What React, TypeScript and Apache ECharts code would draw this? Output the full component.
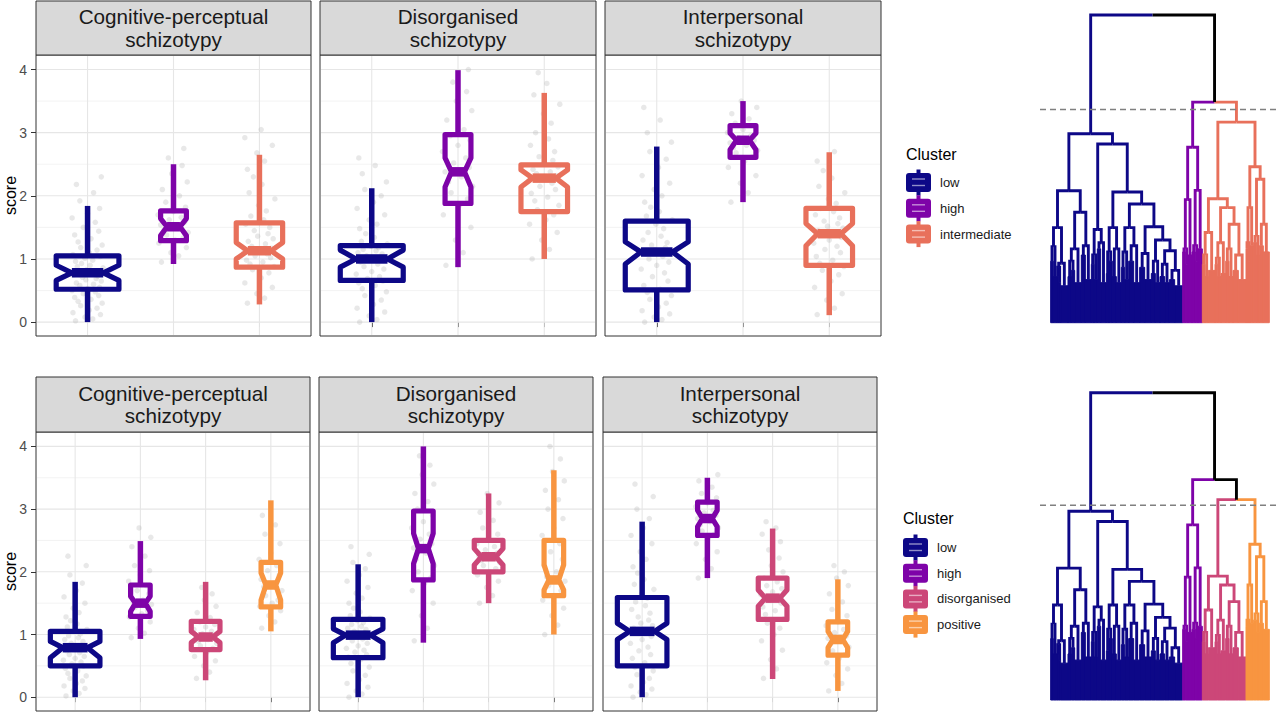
import React, { useEffect, useRef } from "react";
import * as echarts from "echarts";

const FONT = "'Liberation Sans', Arial, Helvetica, sans-serif";

const FACETS = ["Cognitive-perceptual\nschizotypy", "Disorganised\nschizotypy", "Interpersonal\nschizotypy"];
const CLUSTERS_K3 = ["low", "high", "intermediate"];
const CLUSTERS_K4 = ["low", "high", "disorganised", "positive"];
const COLORS_K3 = ["#0D0887", "#7E03A8", "#E8705B"];
const COLORS_K4 = ["#0D0887", "#7E03A8", "#CC4778", "#F89540"];
const Y_TICKS = [0, 1, 2, 3, 4];
const Y_MINOR = [0.5, 1.5, 2.5, 3.5];
const Y_RANGE = [-0.22, 4.23];

// box stats: [lower whisker, Q1, notch lower, median, notch upper, Q3, upper whisker]
const K3_COG = [
  [0.0, 0.52, 0.66, 0.78, 0.9, 1.05, 1.84],
  [0.92, 1.29, 1.37, 1.51, 1.64, 1.76, 2.5],
  [0.28, 0.87, 1.0, 1.13, 1.26, 1.57, 2.65],
];
const K3_DIS = [
  [0.0, 0.66, 0.87, 1.0, 1.14, 1.21, 2.12],
  [0.87, 1.88, 2.14, 2.38, 2.6, 2.97, 3.99],
  [1.0, 1.75, 2.14, 2.28, 2.41, 2.49, 3.63],
];
const K3_INT = [
  [0.0, 0.51, 0.92, 1.11, 1.27, 1.6, 2.78],
  [1.9, 2.61, 2.73, 2.88, 2.99, 3.11, 3.5],
  [0.11, 0.9, 1.21, 1.4, 1.56, 1.8, 2.69],
];
const K4_COG = [
  [0.0, 0.5, 0.63, 0.79, 0.89, 1.05, 1.84],
  [0.93, 1.29, 1.37, 1.5, 1.61, 1.79, 2.49],
  [0.27, 0.76, 0.87, 0.96, 1.05, 1.21, 1.84],
  [1.05, 1.44, 1.55, 1.79, 1.98, 2.15, 3.14],
];
const K4_DIS = [
  [0.0, 0.63, 0.87, 0.99, 1.09, 1.24, 2.12],
  [0.87, 1.87, 2.13, 2.37, 2.61, 2.97, 4.0],
  [1.5, 2.0, 2.11, 2.24, 2.37, 2.5, 3.25],
  [1.0, 1.62, 1.71, 1.87, 2.11, 2.5, 3.62],
];
const K4_INT = [
  [0.0, 0.5, 0.92, 1.05, 1.18, 1.59, 2.8],
  [1.9, 2.58, 2.72, 2.85, 2.98, 3.11, 3.5],
  [0.29, 1.24, 1.45, 1.58, 1.71, 1.9, 2.69],
  [0.1, 0.67, 0.79, 0.92, 1.05, 1.2, 1.88],
];

// relative box widths (varwidth, ~sqrt(n))
const WIDTH_K3 = [0.73, 0.3, 0.54];
const WIDTH_K4 = [0.76, 0.3, 0.44, 0.3];

// individual scores (jittered points)
const K3_COG_PTS = [
  [0.02, 0.05, 0.08, 0.12, 0.15, 0.19, 0.22, 0.26, 0.3, 0.33, 0.36, 0.39, 0.42, 0.45, 0.48, 0.5, 0.53, 0.55, 0.58, 0.6, 0.62, 0.65, 0.67, 0.69, 0.71, 0.73, 0.75, 0.77, 0.79, 0.81, 0.83, 0.86, 0.88, 0.9, 0.93, 0.96, 0.98, 1.01, 1.04, 1.07, 1.1, 1.14, 1.18, 1.22, 1.27, 1.32, 1.38, 1.44, 1.5, 1.58, 1.65, 1.72, 1.8, 1.92, 2.05, 2.18, 2.3],
  [0.95, 1.05, 1.1, 1.18, 1.25, 1.3, 1.33, 1.38, 1.42, 1.46, 1.5, 1.54, 1.58, 1.62, 1.66, 1.7, 1.75, 1.82, 1.9, 2.0, 2.1, 2.22, 2.35, 2.48, 2.6, 2.75],
  [0.3, 0.38, 0.45, 0.55, 0.62, 0.7, 0.78, 0.83, 0.88, 0.92, 0.95, 0.98, 1.02, 1.05, 1.08, 1.11, 1.14, 1.17, 1.2, 1.24, 1.28, 1.32, 1.36, 1.4, 1.45, 1.5, 1.55, 1.62, 1.68, 1.76, 1.85, 1.95, 2.05, 2.18, 2.3, 2.42, 2.55, 2.68, 2.8, 2.92, 3.05],
];
const K3_DIS_PTS = [
  [0.0, 0.04, 0.1, 0.16, 0.22, 0.28, 0.35, 0.42, 0.48, 0.53, 0.58, 0.62, 0.65, 0.69, 0.72, 0.76, 0.8, 0.84, 0.88, 0.92, 0.95, 0.98, 1.0, 1.03, 1.05, 1.08, 1.1, 1.13, 1.15, 1.18, 1.2, 1.24, 1.28, 1.34, 1.4, 1.48, 1.55, 1.62, 1.7, 1.8, 1.9, 2.0, 2.1, 2.22, 2.35, 2.48, 2.6],
  [0.9, 1.1, 1.3, 1.5, 1.7, 1.85, 1.95, 2.05, 2.15, 2.22, 2.3, 2.38, 2.45, 2.52, 2.6, 2.7, 2.8, 2.88, 2.95, 3.05, 3.2, 3.35, 3.5, 3.65, 3.8, 4.0],
  [1.0, 1.15, 1.3, 1.42, 1.55, 1.62, 1.7, 1.78, 1.85, 1.92, 1.98, 2.04, 2.1, 2.15, 2.2, 2.24, 2.28, 2.32, 2.35, 2.38, 2.42, 2.46, 2.5, 2.56, 2.62, 2.7, 2.8, 2.9, 3.0, 3.15, 3.3, 3.45, 3.6, 3.78, 3.95],
];
const K3_INT_PTS = [
  [0.0, 0.04, 0.08, 0.13, 0.18, 0.24, 0.3, 0.36, 0.42, 0.47, 0.52, 0.58, 0.65, 0.72, 0.78, 0.84, 0.9, 0.95, 1.0, 1.04, 1.08, 1.11, 1.15, 1.18, 1.22, 1.26, 1.3, 1.36, 1.42, 1.48, 1.55, 1.62, 1.68, 1.75, 1.82, 1.9, 2.0, 2.1, 2.2, 2.32, 2.45, 2.58, 2.7, 2.85, 3.0, 3.2, 3.4],
  [1.9, 2.05, 2.2, 2.32, 2.45, 2.55, 2.62, 2.68, 2.72, 2.76, 2.8, 2.84, 2.88, 2.92, 2.95, 3.0, 3.05, 3.1, 3.15, 3.22, 3.3, 3.4, 3.5],
  [0.12, 0.22, 0.35, 0.45, 0.55, 0.65, 0.75, 0.82, 0.88, 0.93, 0.98, 1.04, 1.1, 1.15, 1.2, 1.25, 1.3, 1.34, 1.38, 1.42, 1.45, 1.49, 1.52, 1.56, 1.6, 1.65, 1.7, 1.75, 1.8, 1.88, 1.95, 2.05, 2.15, 2.28, 2.4, 2.55, 2.7],
];
const K4_COG_PTS = [
  [0.02, 0.06, 0.1, 0.14, 0.18, 0.22, 0.26, 0.3, 0.34, 0.38, 0.42, 0.46, 0.5, 0.53, 0.56, 0.59, 0.62, 0.65, 0.68, 0.71, 0.74, 0.77, 0.8, 0.83, 0.86, 0.89, 0.92, 0.95, 0.98, 1.01, 1.05, 1.08, 1.12, 1.17, 1.22, 1.28, 1.35, 1.42, 1.5, 1.6, 1.7, 1.82, 1.95, 2.1, 2.25],
  [0.95, 1.02, 1.1, 1.2, 1.28, 1.33, 1.38, 1.43, 1.48, 1.52, 1.55, 1.6, 1.65, 1.7, 1.78, 1.85, 1.95, 2.02, 2.1, 2.25, 2.4, 2.55, 2.7],
  [0.3, 0.4, 0.5, 0.58, 0.65, 0.72, 0.78, 0.82, 0.86, 0.89, 0.92, 0.95, 0.98, 1.01, 1.05, 1.08, 1.12, 1.16, 1.2, 1.27, 1.35, 1.45, 1.55, 1.65, 1.75],
  [1.1, 1.2, 1.3, 1.38, 1.45, 1.5, 1.55, 1.62, 1.7, 1.76, 1.82, 1.88, 1.95, 2.02, 2.1, 2.2, 2.3, 2.45, 2.6, 2.75, 2.9],
];
const K4_DIS_PTS = [
  [0.0, 0.05, 0.1, 0.16, 0.22, 0.28, 0.35, 0.42, 0.48, 0.54, 0.6, 0.64, 0.68, 0.72, 0.75, 0.78, 0.82, 0.86, 0.9, 0.93, 0.96, 0.98, 1.0, 1.03, 1.05, 1.08, 1.1, 1.13, 1.16, 1.19, 1.22, 1.26, 1.3, 1.36, 1.42, 1.5, 1.58, 1.66, 1.75, 1.85, 1.95, 2.05, 2.15, 2.28, 2.4],
  [0.9, 1.1, 1.3, 1.5, 1.7, 1.82, 1.9, 2.0, 2.1, 2.2, 2.3, 2.38, 2.45, 2.52, 2.6, 2.7, 2.8, 2.9, 3.0, 3.12, 3.25, 3.4, 3.55, 3.7, 3.85],
  [1.5, 1.62, 1.75, 1.85, 1.95, 2.0, 2.05, 2.1, 2.15, 2.18, 2.22, 2.26, 2.3, 2.35, 2.4, 2.45, 2.5, 2.6, 2.7, 2.82, 2.95, 3.1, 3.25],
  [1.0, 1.15, 1.3, 1.42, 1.55, 1.62, 1.7, 1.78, 1.85, 1.92, 2.0, 2.1, 2.2, 2.32, 2.45, 2.58, 2.7, 2.85, 3.0, 3.15, 3.3, 3.45, 3.6, 3.8, 4.0],
];
const K4_INT_PTS = [
  [0.0, 0.04, 0.08, 0.13, 0.18, 0.24, 0.3, 0.36, 0.42, 0.48, 0.55, 0.62, 0.68, 0.74, 0.8, 0.86, 0.92, 0.97, 1.02, 1.06, 1.1, 1.14, 1.18, 1.23, 1.28, 1.34, 1.4, 1.46, 1.52, 1.58, 1.65, 1.72, 1.8, 1.88, 1.98, 2.08, 2.2, 2.32, 2.45, 2.58, 2.7, 2.85, 3.0, 3.2, 3.4],
  [1.9, 2.05, 2.2, 2.32, 2.45, 2.55, 2.6, 2.65, 2.7, 2.75, 2.8, 2.85, 2.9, 2.94, 2.98, 3.04, 3.1, 3.18, 3.25, 3.35, 3.45, 3.55],
  [0.3, 0.45, 0.6, 0.75, 0.9, 1.0, 1.1, 1.18, 1.25, 1.32, 1.38, 1.44, 1.5, 1.55, 1.6, 1.64, 1.68, 1.73, 1.78, 1.84, 1.9, 2.0, 2.1, 2.22, 2.35, 2.48, 2.6, 2.7, 2.8],
  [0.1, 0.22, 0.35, 0.45, 0.55, 0.62, 0.68, 0.74, 0.8, 0.85, 0.9, 0.94, 0.98, 1.03, 1.08, 1.14, 1.2, 1.3, 1.4, 1.52, 1.65, 1.78, 1.9, 2.0, 2.1],
];

// horizontal jitter offsets (category units)
const JITTER = [-0.14, 0.06, -0.03, 0.15, -0.17, 0.02, 0.11, -0.08, 0.17, -0.11, 0.04, -0.15, 0.13, -0.05, 0.09, -0.18, 0.0, 0.14, -0.09, 0.07, -0.13, 0.16, -0.02, 0.1, -0.06, 0.12, -0.16, 0.05, -0.1, 0.08, -0.01, 0.18, -0.12, 0.03, -0.07];

// dendrogram: node = [height, left, right]; leaf bundle = [width (leaves), height]
const LOW_A = [3.09, [2.47, [8, 2.0], [10, 1.5]], [1.93, [1.8, [6, 1.5], [6, 1.3]], [22, 1.2]]];
const LOW_B = [3.59, [2.4, [2.0, [10, 1.5], [10, 1.7]], [20, 1.3]], [2.5, [12, 2.2], [18, 1.4]]];
const LOW_C = [3.03, [2.2, [8, 1.9], [10, 1.4]], [2.6, [10, 2.4], [17, 1.3]]];
const LOW_D = [3.09, [2.3, [8, 1.6], [10, 2.0]], [2.4, [12, 1.5], [15, 1.3]]];
const LOW_E = [3.09, [2.3, [10, 1.8], [12, 1.4]], [2.5, [15, 2.0], [18, 1.3]]];
const LOW_F = [3.12, [2.25, [15, 1.8], [20, 1.4]], [2.69, [2.0, [12, 1.6], [14, 1.3]], [2.34, [1.9, [14, 1.5], [14, 1.3]], [1.7, [16, 1.4], [24, 1.2]]]]];
const TREE_LOW = [6.14, [4.29, LOW_A, LOW_B], [5.81, LOW_C, [4.25, LOW_D, [3.86, LOW_E, LOW_F]]]];
const TREE_HIGH = [5.7, [4.0, [2.4, [8, 2.3], [8, 1.9]], [12, 2.2]], [4.3, [2.5, [10, 2.3], [8, 2.0]], [13, 2.4]]];
const TREE_DIS = [4.03, [2.93, [2.2, [8, 1.9], [10, 1.5]], [20, 1.7]], [3.74, [2.6, [2.1, [8, 1.9], [10, 1.5]], [14, 1.6]], [3.2, [2.4, [10, 2.0], [12, 1.5]], [2.2, [16, 1.7], [23, 1.4]]]]];
const TREE_POS = [5.07, [3.74, [2.6, [6, 2.4], [6, 2.0]], [10, 2.5]], [4.66, [2.8, [10, 2.6], [8, 2.2]], [3.2, [12, 2.5], [18, 2.3]]]];
const TOP_MERGES = [10, 7.17, 6.52]; // root, high+rest, disorganised+positive
const GROUP_MAP_K3 = [0, 1, 2, 2];
const GROUP_MAP_K4 = [0, 1, 2, 3];
const CUT_K3 = 6.93;
const CUT_K4 = 6.34;

function tag(node: any, g: number): any {
  if (!Array.isArray(node[1])) return [node[0], node[1], g];
  return [node[0], tag(node[1], g), tag(node[2], g)];
}
const FULL_TREE = [TOP_MERGES[0], tag(TREE_LOW, 0), [TOP_MERGES[1], tag(TREE_HIGH, 1), [TOP_MERGES[2], tag(TREE_DIS, 2), tag(TREE_POS, 3)]]];

function layoutTree(node: any, map: number[], acc: number[][], cur: { v: number }): { x: number; h: number; c: number } {
  if (!Array.isArray(node[1])) {
    const [w, h, g] = node;
    const c = map[g];
    const x0 = cur.v;
    cur.v += w;
    acc.push([1, x0, x0 + w, h, c, 0, 0, 0, 0]);
    return { x: x0 + w / 2, h, c };
  }
  const L = layoutTree(node[1], map, acc, cur);
  const R = layoutTree(node[2], map, acc, cur);
  const x = (L.x + R.x) / 2;
  acc.push([0, x, node[0], L.x, L.h, L.c, R.x, R.h, R.c]);
  return { x, h: node[0], c: L.c === R.c ? L.c : -1 };
}

const ROWS = [
  {
    clusters: CLUSTERS_K3, colors: COLORS_K3, widths: WIDTH_K3,
    boxes: [K3_COG, K3_DIS, K3_INT], points: [K3_COG_PTS, K3_DIS_PTS, K3_INT_PTS],
    panelsX: [[36, 311], [320, 596], [605, 881]], plotY: [55, 336], stripY: [1, 55],
    legend: { x: 906, labelX: 940, titleY: 154, firstY: 182.5, step: 25.8 },
    dendro: { top: 15, height: 307.7, map: GROUP_MAP_K3, cut: CUT_K3 },
  },
  {
    clusters: CLUSTERS_K4, colors: COLORS_K4, widths: WIDTH_K4,
    boxes: [K4_COG, K4_DIS, K4_INT], points: [K4_COG_PTS, K4_DIS_PTS, K4_INT_PTS],
    panelsX: [[36, 310], [319, 593], [603, 877]], plotY: [432, 711], stripY: [377, 432],
    legend: { x: 903, labelX: 937, titleY: 518.5, firstY: 547.5, step: 25.7 },
    dendro: { top: 392.7, height: 307.3, map: GROUP_MAP_K4, cut: CUT_K4 },
  },
];

function buildOption() {
  const grid: any[] = [];
  const xAxis: any[] = [];
  const yAxis: any[] = [];
  const series: any[] = [];
  const elements: any[] = [];

  ROWS.forEach((row) => {
    const n = row.clusters.length;
    row.panelsX.forEach(([x0, x1], p) => {
      const gi = grid.length;
      const [py0, py1] = row.plotY;
      grid.push({ left: x0, top: py0, width: x1 - x0, height: py1 - py0, show: true, borderColor: "#333333", borderWidth: 1, backgroundColor: "#FFFFFF" });
      const cats = row.clusters.map((_, i) => i + 1);
      xAxis.push({
        type: "value", gridIndex: gi, min: 0.4, max: n + 0.6,
        axisLine: { show: false },
        axisTick: { show: true, customValues: cats, length: 5, lineStyle: { color: "#333333", width: 1 } },
        axisLabel: { show: false }, splitLine: { show: false },
      });
      const first = p === 0;
      yAxis.push({
        type: "value", gridIndex: gi, min: Y_RANGE[0], max: Y_RANGE[1],
        axisLine: { show: false },
        axisTick: { show: first, customValues: Y_TICKS, length: 5, lineStyle: { color: "#333333", width: 1 } },
        axisLabel: { show: first, customValues: Y_TICKS, color: "#4D4D4D", fontSize: 14, fontFamily: FONT, margin: 9 },
        splitLine: { show: false },
      });

      const gridData: number[][] = [
        ...Y_MINOR.map((v) => [1, v]),
        ...Y_TICKS.map((v) => [0, v]),
        ...cats.map((v) => [2, v]),
      ];
      series.push({
        type: "custom", xAxisIndex: gi, yAxisIndex: gi, silent: true, z: 1, data: gridData,
        renderItem: (params: any, api: any) => {
          const cs = params.coordSys;
          const kind = api.value(0);
          const v = api.value(1);
          if (kind === 2) {
            const x = api.coord([v, 0])[0];
            return { type: "line", shape: { x1: x, y1: cs.y + 1, x2: x, y2: cs.y + cs.height - 1 }, style: { stroke: "#E6E6E6", lineWidth: 1.1 } };
          }
          const y = api.coord([1, v])[1];
          return {
            type: "line", shape: { x1: cs.x + 1, y1: y, x2: cs.x + cs.width - 1, y2: y },
            style: { stroke: kind === 0 ? "#E6E6E6" : "#F0F0F0", lineWidth: kind === 0 ? 1.1 : 0.8 },
          };
        },
      });

      const pts: number[][] = [];
      row.points[p].forEach((vals, i) => {
        vals.forEach((v, k) => pts.push([i + 1 + JITTER[k % JITTER.length], v]));
      });
      series.push({
        type: "scatter", xAxisIndex: gi, yAxisIndex: gi, silent: true, z: 2, data: pts,
        symbol: "circle", symbolSize: 5.5, itemStyle: { color: "#AEAEAE", opacity: 0.28 },
      });

      const boxData = row.boxes[p].map((s, i) => [i + 1, ...s, row.widths[i], i]);
      const colors = row.colors;
      series.push({
        type: "custom", xAxisIndex: gi, yAxisIndex: gi, silent: true, z: 3, data: boxData,
        renderItem: (_params: any, api: any) => {
          const x = api.value(0);
          const lw = api.value(1), q1 = api.value(2), nlo = api.value(3), med = api.value(4);
          const nhi = api.value(5), q3 = api.value(6), hw = api.value(7);
          const half = api.value(8) / 2;
          const col = colors[api.value(9)];
          const inner = half * 0.5;
          const P = (dx: number, v: number) => api.coord([x + dx, v]);
          const stroke = { stroke: col, lineWidth: 5.2, fill: "none", lineJoin: "round" };
          return {
            type: "group",
            children: [
              { type: "line", shape: { x1: P(0, q3)[0], y1: P(0, q3)[1], x2: P(0, hw)[0], y2: P(0, hw)[1] }, style: { stroke: col, lineWidth: 5.5 } },
              { type: "line", shape: { x1: P(0, q1)[0], y1: P(0, q1)[1], x2: P(0, lw)[0], y2: P(0, lw)[1] }, style: { stroke: col, lineWidth: 5.5 } },
              {
                type: "polygon",
                shape: { points: [P(-half, q3), P(half, q3), P(half, nhi), P(inner, med), P(half, nlo), P(half, q1), P(-half, q1), P(-half, nlo), P(-inner, med), P(-half, nhi)] },
                style: stroke,
              },
              { type: "line", shape: { x1: P(-inner, med)[0], y1: P(-inner, med)[1], x2: P(inner, med)[0], y2: P(inner, med)[1] }, style: { stroke: col, lineWidth: 9.5 } },
            ],
          };
        },
      });

      // facet strip
      const [sy0, sy1] = row.stripY;
      elements.push({ type: "rect", shape: { x: x0, y: sy0, width: x1 - x0, height: sy1 - sy0 }, style: { fill: "#D9D9D9", stroke: "#333333", lineWidth: 1 } });
      elements.push({
        type: "text", x: (x0 + x1) / 2, y: (sy0 + sy1) / 2,
        style: { text: FACETS[p], fill: "#1A1A1A", fontSize: 20.7, fontFamily: FONT, lineHeight: 22.5, align: "center", verticalAlign: "middle", textAlign: "center", textVerticalAlign: "middle" },
      });
    });

    // y axis title
    elements.push({
      type: "text", x: 10, y: (row.plotY[0] + row.plotY[1]) / 2, rotation: Math.PI / 2,
      style: { text: "score", fill: "#000000", fontSize: 16, fontFamily: FONT, align: "center", verticalAlign: "middle", textAlign: "center", textVerticalAlign: "middle" },
    });

    // legend
    const lg = row.legend;
    elements.push({ type: "text", x: lg.x, y: lg.titleY, style: { text: "Cluster", fill: "#000000", fontSize: 16, fontFamily: FONT, align: "left", verticalAlign: "middle", textAlign: "left", textVerticalAlign: "middle" } });
    row.clusters.forEach((name, i) => {
      const cy = lg.firstY + i * lg.step;
      const col = row.colors[i];
      elements.push({ type: "line", shape: { x1: lg.x + 12.5, y1: cy - 13, x2: lg.x + 12.5, y2: cy + 13 }, style: { stroke: col, lineWidth: 4 } });
      elements.push({ type: "rect", shape: { x: lg.x, y: cy - 9.5, width: 25, height: 19, r: 3 }, style: { fill: col } });
      elements.push({ type: "line", shape: { x1: lg.x + 6, y1: cy - 3.5, x2: lg.x + 19, y2: cy - 3.5 }, style: { stroke: "rgba(255,255,255,0.55)", lineWidth: 1.4 } });
      elements.push({ type: "line", shape: { x1: lg.x + 6, y1: cy + 3, x2: lg.x + 19, y2: cy + 3 }, style: { stroke: "rgba(255,255,255,0.55)", lineWidth: 1.4 } });
      elements.push({ type: "text", x: lg.labelX, y: cy, style: { text: name, fill: "#1A1A1A", fontSize: 13, fontFamily: FONT, align: "left", verticalAlign: "middle", textAlign: "left", textVerticalAlign: "middle" } });
    });

    // dendrogram
    const d = row.dendro;
    const gi = grid.length;
    grid.push({ left: 1040, top: d.top, width: 240, height: d.height, show: false });
    xAxis.push({ type: "value", gridIndex: gi, min: -32, max: 688, show: false });
    yAxis.push({ type: "value", gridIndex: gi, min: 0, max: 10, show: false });
    const acc: number[][] = [];
    layoutTree(FULL_TREE, d.map, acc, { v: 0 });
    const dcol = (c: number) => (c < 0 ? "#000000" : row.colors[c]);
    series.push({
      type: "custom", xAxisIndex: gi, yAxisIndex: gi, silent: true, z: 3, data: acc,
      renderItem: (_params: any, api: any) => {
        const t = api.value(0);
        if (t === 1) {
          const a = api.coord([api.value(1), api.value(3)]);
          const b = api.coord([api.value(2), 0]);
          const c = dcol(api.value(4));
          return { type: "rect", shape: { x: a[0], y: a[1], width: b[0] - a[0], height: b[1] - a[1] }, style: { fill: c, stroke: c, lineWidth: 1 } };
        }
        const x = api.value(1), h = api.value(2);
        const xl = api.value(3), hl = api.value(4), cl = api.value(5);
        const xr = api.value(6), hr = api.value(7), cr = api.value(8);
        const P = (u: number, v: number) => api.coord([u, v]);
        return {
          type: "group",
          children: [
            { type: "polyline", shape: { points: [P(x, h), P(xl, h), P(xl, hl)] }, style: { stroke: dcol(cl), lineWidth: 2.9, fill: "none", lineJoin: "miter" } },
            { type: "polyline", shape: { points: [P(x, h), P(xr, h), P(xr, hr)] }, style: { stroke: dcol(cr), lineWidth: 2.9, fill: "none", lineJoin: "miter" } },
          ],
        };
      },
    });
    series.push({
      type: "line", xAxisIndex: gi, yAxisIndex: gi, silent: true, z: 5, symbol: "none",
      data: [[-32, d.cut], [688, d.cut]],
      lineStyle: { color: "#808080", width: 1.5, type: [6, 4] },
    });
  });

  return {
    animation: false,
    backgroundColor: "#FFFFFF",
    grid, xAxis, yAxis, series,
    graphic: { elements },
  };
}

export default function App() {
  const ref = useRef<HTMLDivElement>(null);
  useEffect(() => {
    if (!ref.current) return;
    const chart = echarts.init(ref.current, null, { renderer: "svg" });
    chart.setOption(buildOption() as any);
    return () => chart.dispose();
  }, []);
  return <div ref={ref} style={{ position: "fixed", left: 0, top: 0, width: 1280, height: 720, background: "#fff" }} />;
}
